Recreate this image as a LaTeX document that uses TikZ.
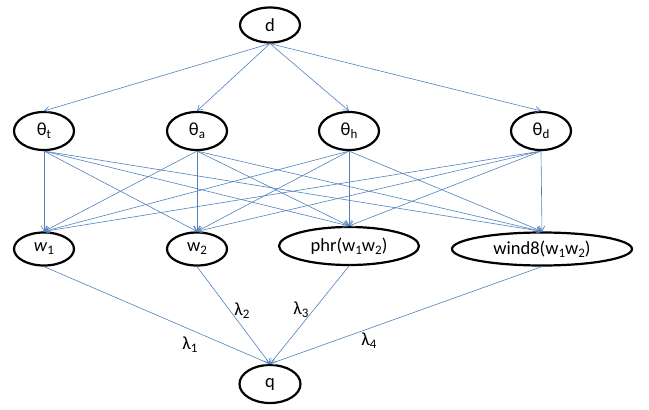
\documentclass[tikz,border=0pt]{standalone}
\usepackage{fontspec}
\setmainfont{Carlito}
\usetikzlibrary{arrows.meta,shapes.geometric}
\definecolor{edgeblue}{RGB}{79,129,189}
\newcommand{\lsub}[1]{\raisebox{-0.35ex}{\fontsize{13}{13}\selectfont #1}}
\begin{document}
\begin{tikzpicture}[x=1pt,y=-1pt,
  ell/.style={ellipse,draw=black,line width=2.2pt,inner sep=0pt,
    font=\fontsize{18.5}{20}\selectfont},
  conn/.style={draw=edgeblue,line width=0.6pt,-{Straight Barb[length=5pt,width=6pt]}},
  lam/.style={font=\fontsize{18.5}{20}\selectfont,inner sep=0pt}]
\useasboundingbox (0,0) rectangle (649,410);
\node[ell,minimum width=60pt,minimum height=35pt] (d) at (270,25) {d};
\node[ell,minimum width=60pt,minimum height=38pt] (tt) at (44,131) {θ\lsub{t}};
\node[ell,minimum width=60pt,minimum height=38pt] (ta) at (197,131) {θ\lsub{a}};
\node[ell,minimum width=60pt,minimum height=38pt] (th) at (349,131) {θ\lsub{h}};
\node[ell,minimum width=60pt,minimum height=38pt] (td) at (541,131) {θ\lsub{d}};
\node[ell,minimum width=60pt,minimum height=33pt] (w1) at (44,249) {\textit{w}\lsub{1}};
\node[ell,minimum width=60pt,minimum height=33pt] (w2) at (197,249) {w\lsub{2}};
\node[ell,minimum width=140pt,minimum height=38pt] (phr) at (349,246) {phr(w\lsub{1}w\lsub{2})};
\node[ell,minimum width=180pt,minimum height=33pt] (wind) at (542,249) {wind8(w\lsub{1}w\lsub{2})};
\node[ell,minimum width=61pt,minimum height=38pt] (q) at (270,384) {q};
\foreach \t in {tt,ta,th,td} {
  \draw[conn] (d.south) -- (\t.north);
  \foreach \w in {w1,w2,phr,wind} {
    \draw[conn] (\t.south) -- (\w.north);
  }
}
\foreach \w in {w1,w2,phr,wind} {
  \draw[conn] (\w.south) -- (q.north);
}
\node[lam] (l1) at (190,345) {λ\lsub{1}};
\node[lam] (l2) at (242,311) {λ\lsub{2}};
\node[lam] (l3) at (301,310) {λ\lsub{3}};
\node[lam] (l4) at (369,341) {λ\lsub{4}};
\end{tikzpicture}
\end{document}
